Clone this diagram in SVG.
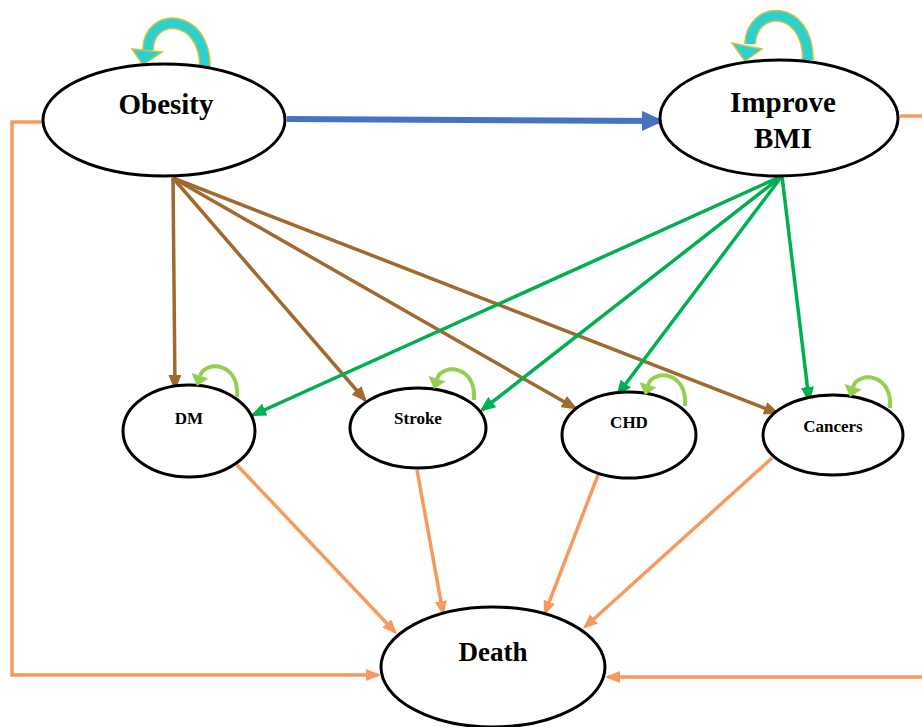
<svg xmlns="http://www.w3.org/2000/svg" width="922" height="727" viewBox="0 0 922 727">
<style>
.node{fill:#fff;stroke:#000;stroke-width:3}
.lbl{font-family:"Liberation Serif",serif;font-weight:bold;fill:#000;text-anchor:middle}
.big{font-size:29px}
.sm{font-size:17px}
.brown{stroke:#A0692E;stroke-width:3.5;fill:none}
.green{stroke:#00B050;stroke-width:3.5;fill:none}
.orange{stroke:#F79A5E;stroke-width:3.5;fill:none}
.blue{stroke:#4472C4;stroke-width:6;fill:none}
.cyanEdge{stroke:#C9C83A;stroke-width:12;fill:none}
.cyan{stroke:#2ECFD0;stroke-width:9;fill:none}
.lg{stroke:#92D050;stroke-width:4;fill:none}
</style>
<defs>
<marker id="mBrown" markerUnits="userSpaceOnUse" markerWidth="16" markerHeight="13" refX="13" refY="6.5" orient="auto"><path d="M0,0 L16,6.5 L0,13 z" fill="#A0692E"/></marker>
<marker id="mGreen" markerUnits="userSpaceOnUse" markerWidth="16" markerHeight="13" refX="13" refY="6.5" orient="auto"><path d="M0,0 L16,6.5 L0,13 z" fill="#00B050"/></marker>
<marker id="mOrange" markerUnits="userSpaceOnUse" markerWidth="15" markerHeight="12" refX="12" refY="6" orient="auto"><path d="M0,0 L15,6 L0,12 z" fill="#F79A5E"/></marker>
<marker id="mBlue" markerUnits="userSpaceOnUse" markerWidth="22" markerHeight="20" refX="18" refY="10" orient="auto"><path d="M0,0 L22,10 L0,20 z" fill="#4472C4"/></marker>
<g id="smallLoop">
<path class="lg" d="M42,13 C45,-22 10,-24 5,-8"/>
<polygon points="2,2 13.5,-5.6 -3.5,-10.9" fill="#92D050"/>
</g>
</defs>
<rect width="922" height="727" fill="#fff"/>
<g id="connectors">
<line class="blue" x1="287" y1="119" x2="660" y2="121" marker-end="url(#mBlue)"/>
<line class="brown" x1="173" y1="178" x2="175" y2="388" marker-end="url(#mBrown)"/>
<line class="brown" x1="173" y1="178" x2="365" y2="400" marker-end="url(#mBrown)"/>
<line class="brown" x1="173" y1="178" x2="575" y2="408" marker-end="url(#mBrown)"/>
<line class="brown" x1="173" y1="178" x2="777" y2="413" marker-end="url(#mBrown)"/>
<line class="green" x1="782" y1="176" x2="253" y2="415" marker-end="url(#mGreen)"/>
<line class="green" x1="782" y1="176" x2="482" y2="410" marker-end="url(#mGreen)"/>
<line class="green" x1="782" y1="176" x2="618" y2="394" marker-end="url(#mGreen)"/>
<line class="green" x1="782" y1="176" x2="809" y2="400" marker-end="url(#mGreen)"/>
<line class="orange" x1="237" y1="465" x2="395" y2="632" marker-end="url(#mOrange)"/>
<line class="orange" x1="417" y1="470" x2="443" y2="613" marker-end="url(#mOrange)"/>
<line class="orange" x1="598" y1="475" x2="545" y2="613" marker-end="url(#mOrange)"/>
<line class="orange" x1="772" y1="458" x2="585" y2="627" marker-end="url(#mOrange)"/>
<path class="orange" d="M43,122 H12 V675 H378" marker-end="url(#mOrange)"/>
<path class="orange" d="M900,116 H922"/>
<path class="orange" d="M922,677 H608" marker-end="url(#mOrange)"/>
</g>
<g id="obesity-loop">
<path class="cyanEdge" d="M205,67 C205,12 148,12 148,50"/>
<path class="cyan" d="M205,67 C205,12 148,12 148,50"/>
<polygon points="143,65 132,49 162,52" fill="#2ECFD0" stroke="#C9C83A" stroke-width="1.5"/>
</g>
<g id="bmi-loop">
<path class="cyanEdge" d="M808,60 C808,4 752,4 750,44"/>
<path class="cyan" d="M808,60 C808,4 752,4 750,44"/>
<polygon points="745,61 732,43 762,49" fill="#2ECFD0" stroke="#C9C83A" stroke-width="1.5"/>
</g>
<g id="obesity">
<ellipse class="node" cx="164" cy="120" rx="121" ry="56"/>
<text class="lbl big" x="166" y="114">Obesity</text>
</g>
<g id="improve-bmi">
<ellipse class="node" cx="779" cy="118" rx="119" ry="58"/>
<text class="lbl big" x="783" y="112">Improve</text>
<text class="lbl big" x="783" y="148">BMI</text>
</g>
<g id="dm">
<ellipse class="node" cx="189" cy="431" rx="66" ry="46"/>
<text class="lbl sm" x="189" y="424">DM</text>
<use href="#smallLoop" x="195" y="384"/>
</g>
<g id="stroke">
<ellipse class="node" cx="418" cy="428" rx="68" ry="40"/>
<text class="lbl sm" x="418" y="424">Stroke</text>
<use href="#smallLoop" x="432" y="387"/>
</g>
<g id="chd">
<ellipse class="node" cx="629" cy="435" rx="67" ry="43"/>
<text class="lbl sm" x="629" y="428">CHD</text>
<use href="#smallLoop" x="643" y="393"/>
</g>
<g id="cancers">
<ellipse class="node" cx="833" cy="435" rx="70" ry="40"/>
<text class="lbl sm" x="833" y="432">Cancers</text>
<use href="#smallLoop" x="848" y="395"/>
</g>
<g id="death">
<ellipse class="node" cx="493" cy="667" rx="112" ry="60"/>
<text class="lbl" style="font-size:27px" x="493" y="661">Death</text>
</g>
</svg>
